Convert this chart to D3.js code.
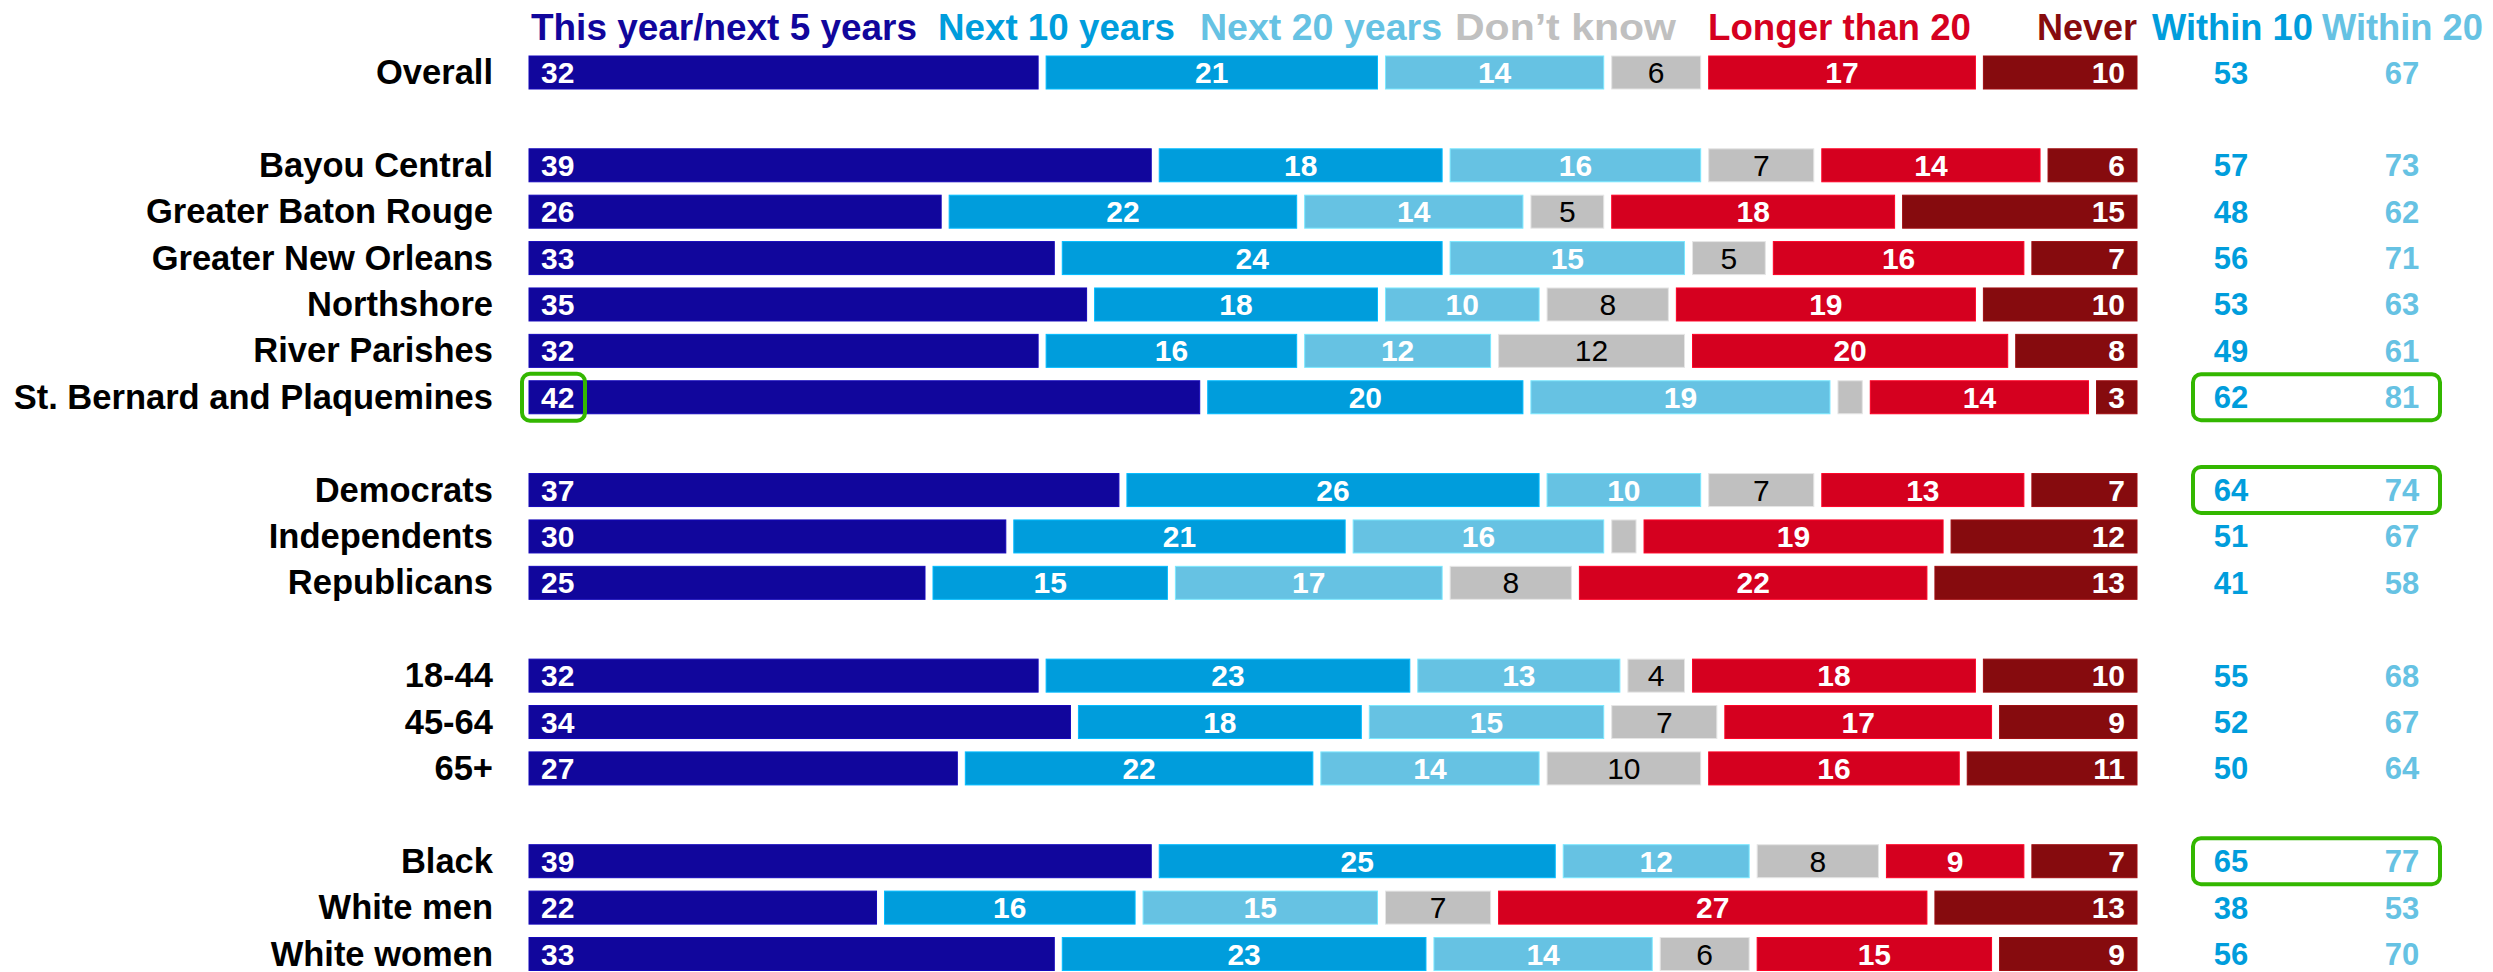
<!DOCTYPE html>
<html>
<head>
<meta charset="utf-8">
<script src="https://cdn.jsdelivr.net/npm/d3@7"></script>
<style>
  html, body { margin: 0; padding: 0; background: #fff; }
  svg { display: block; font-family: "Liberation Sans", Arial, Helvetica, sans-serif; }
</style>
</head>
<body>
<svg id="chart" width="2493" height="972"></svg>
<script>
// Row groups (blank row drawn between groups)
const groupOverall = ["Overall"];
const groupRegion = ["Bayou Central", "Greater Baton Rouge", "Greater New Orleans", "Northshore", "River Parishes", "St. Bernard and Plaquemines"];
const groupParty = ["Democrats", "Independents", "Republicans"];
const groupAge = ["18-44", "45-64", "65+"];
const groupRace = ["Black", "White men", "White women"];

// Series names (legend across the top)
const seriesNames = ["This year/next 5 years", "Next 10 years", "Next 20 years", "Don\u2019t know", "Longer than 20", "Never"];
const summaryNames = ["Within 10", "Within 20"];

// Percentages per row, in the order of the groups above
const thisOrNext5 = [32, 39, 26, 33, 35, 32, 42, 37, 30, 25, 32, 34, 27, 39, 22, 33];
const next10      = [21, 18, 22, 24, 18, 16, 20, 26, 21, 15, 23, 18, 22, 25, 16, 23];
const next20      = [14, 16, 14, 15, 10, 12, 19, 10, 16, 17, 13, 15, 14, 12, 15, 14];
const dontKnow    = [ 6,  7,  5,  5,  8, 12,  2,  7,  2,  8,  4,  7, 10,  8,  7,  6];
const longerThan20= [17, 14, 18, 16, 19, 20, 14, 13, 19, 22, 18, 17, 16,  9, 27, 15];
const never       = [10,  6, 15,  7, 10,  8,  3,  7, 12, 13, 10,  9, 11,  7, 13,  9];
const within10    = [53, 57, 48, 56, 53, 49, 62, 64, 51, 41, 55, 52, 50, 65, 38, 56];
const within20    = [67, 73, 62, 71, 63, 61, 81, 74, 67, 58, 68, 67, 64, 77, 53, 70];

// Rows that get a green outline
const outlineFirstSegment = ["St. Bernard and Plaquemines"];
const outlineSummary = ["St. Bernard and Plaquemines", "Democrats", "Black"];

// ---- styling / layout ----
const colors = ["#11069c", "#009ddc", "#66c2e3", "#c0c0c0", "#d5001f", "#860b0e"];
const summaryColors = ["#009ddc", "#66c2e3"];
const green = "#33b700";

const svg = d3.select("#chart");
const W = 2493, H = 972;
svg.append("rect").attr("width", W).attr("height", H).attr("fill", "#fff");

const groups = [groupOverall, groupRegion, groupParty, groupAge, groupRace];
const rowNames = groups.flat();
const domain = [];
groups.forEach((g, i) => {
  if (i > 0) domain.push("__gap" + i);
  g.forEach(n => domain.push(n));
});

const y = d3.scalePoint().domain(domain).range([72.5, 954]);
const x = d3.scaleLinear().domain([0, 100]).range([529, 2145]);
const gap = 8;
const barH = 33;
const labelRight = 493;
const summaryX = [2231, 2402];

const seriesValues = [thisOrNext5, next10, next20, dontKnow, longerThan20, never];

const rows = rowNames.map((name, i) => {
  let cum = 0;
  const segs = seriesValues.map((arr, s) => {
    const seg = { series: s, value: arr[i], x0: cum, x1: cum + arr[i] };
    cum += arr[i];
    return seg;
  });
  return { name, segs, w10: within10[i], w20: within20[i] };
});

// header legend: [left edge, right edge] of each heading
const headerSpans = [[531, 917], [938, 1175], [1200, 1442], [1455, 1676], [1708, 1971], [2037, 2137], [2152, 2313], [2322, 2483]];
const headerTexts = seriesNames.concat(summaryNames);
const headerColors = colors.concat(summaryColors);
const hdr = svg.append("g").attr("class", "legend")
  .style("font-weight", "bold").style("font-size", "37px");
headerTexts.forEach((t, i) => {
  const [a, b] = headerSpans[i];
  hdr.append("text")
    .attr("x", a).attr("y", 40)
    .attr("textLength", b - a)
    .attr("lengthAdjust", "spacingAndGlyphs")
    .attr("fill", headerColors[i])
    .text(t);
});

// row labels
svg.append("g").selectAll("text").data(rows).join("text")
  .attr("x", labelRight)
  .attr("y", d => y(d.name) + 11.5)
  .attr("text-anchor", "end")
  .style("font-weight", "bold").style("font-size", "34.5px")
  .attr("fill", "#000")
  .text(d => d.name);

// bars
const rowG = svg.append("g").selectAll("g").data(rows).join("g")
  .attr("transform", d => `translate(0,${y(d.name)})`);

rowG.selectAll("rect").data(d => d.segs).join("rect")
  .attr("x", d => x(d.x0))
  .attr("y", -barH / 2)
  .attr("width", d => Math.max(0, x(d.x1) - x(d.x0) - gap))
  .attr("height", barH)
  .attr("fill", d => colors[d.series])
  .attr("stroke", d => d3.color(colors[d.series]).brighter(0.5))
  .attr("stroke-width", 1);

rowG.selectAll("text.val").data(d => d.segs.filter(s => s.value >= 3)).join("text")
  .attr("class", "val")
  .attr("x", d => {
    if (d.series === 0) return x(d.x0) + 12;
    if (d.series === 5) return x(d.x1) - gap - 12;
    return (x(d.x0) + x(d.x1) - gap) / 2;
  })
  .attr("y", 10.5)
  .attr("text-anchor", d => d.series === 0 ? "start" : d.series === 5 ? "end" : "middle")
  .style("font-size", "30px")
  .style("font-weight", d => d.series === 3 ? "normal" : "bold")
  .attr("fill", d => d.series === 3 ? "#000" : "#fff")
  .text(d => d.value);

// summary columns
[["w10", 0], ["w20", 1]].forEach(([k, i]) => {
  svg.append("g").selectAll("text").data(rows).join("text")
    .attr("x", summaryX[i])
    .attr("y", d => y(d.name) + 11)
    .attr("text-anchor", "middle")
    .style("font-weight", "bold").style("font-size", "31px")
    .attr("fill", summaryColors[i])
    .text(d => d[k]);
});

// green outlines
const outlines = svg.append("g").attr("fill", "none").attr("stroke", green).attr("stroke-width", 4);
outlineFirstSegment.forEach(n => {
  outlines.append("rect")
    .attr("x", x(0) - 7).attr("y", y(n) - 23.5)
    .attr("width", 63).attr("height", 47).attr("rx", 8);
});
outlineSummary.forEach(n => {
  outlines.append("rect")
    .attr("x", 2193).attr("y", y(n) - 23)
    .attr("width", 247).attr("height", 46).attr("rx", 8);
});
</script>
</body>
</html>
